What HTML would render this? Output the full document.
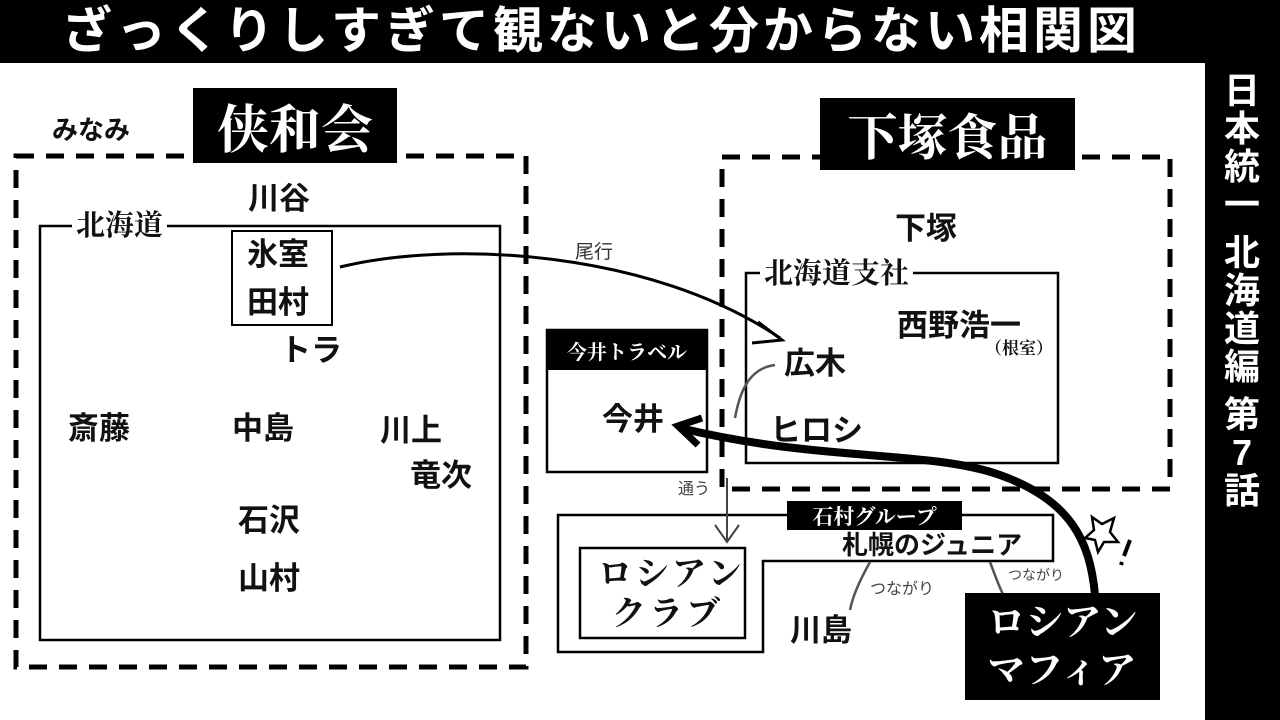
<!DOCTYPE html>
<html><head><meta charset="utf-8"><style>
body{margin:0;width:1280px;height:720px;overflow:hidden;background:#fff;position:relative;font-family:"Liberation Sans","Noto Sans CJK JP",sans-serif;}
.a{position:absolute;white-space:nowrap;font-weight:bold;color:#111;line-height:1;}
.n{font-size:31px;}
.blk{position:absolute;background:#000;color:#fff;font-family:"Liberation Serif","Noto Serif CJK SC",serif;font-weight:bold;display:flex;align-items:center;justify-content:center;white-space:nowrap;}
</style></head><body>
<div style="position:absolute;left:0;top:0;width:1280px;height:63px;background:#000"></div>
<div style="position:absolute;left:1205px;top:0;width:75px;height:720px;background:#000"></div>
<div class="a" style="left:62px;top:6px;font-size:50px;color:#fff;letter-spacing:4px">ざっくりしすぎて観ないと分からない相関図</div>
<div class="a" style="left:1222px;top:72px;font-size:36px;color:#fff;width:40px;line-height:38px;white-space:normal;text-align:center">日本統一<div style="height:10px"></div>北海道編<div style="height:10px"></div>第7話</div>

<svg style="position:absolute;left:0;top:0" width="1280" height="720">
<g fill="none" stroke="#000">
<rect x="16" y="156" width="510" height="511" stroke-width="5" stroke-dasharray="18,12"/>
<rect x="722" y="157" width="448" height="332" stroke-width="5" stroke-dasharray="18,12"/>
<rect x="40" y="226" width="460" height="414" stroke-width="2.5"/>
<rect x="232" y="231" width="100" height="94" stroke-width="2"/>
<rect x="746" y="273" width="312" height="190" stroke-width="2.5"/>
<rect x="547" y="330" width="160" height="142" stroke-width="2.5"/>
<polygon points="558,515 1053,515 1053,561 763,561 763,652 558,652" stroke-width="2.5"/>
<rect x="580" y="548" width="165" height="90" stroke-width="2.5"/>
<path d="M340,267 C450,240 650,250 780,338" stroke-width="3"/>
<path d="M758,322 L782,340 L752,343" stroke-width="3"/>
<path d="M735,418 C740,390 750,368 775,365" stroke="#555" stroke-width="2.5"/>
<path d="M727,478 L727,540 M715,525 L727,542 L739,525" stroke="#444" stroke-width="2"/>
<path d="M1095,595 C1090,540 1070,500 1000,475 C930,450 820,462 680,428" stroke-width="8"/>
<path d="M702,418 L678,426 L698,445" stroke-width="7"/>
<path d="M870,562 C860,580 853,595 850,610" stroke="#555" stroke-width="2.5"/>
<path d="M990,562 C995,575 1000,590 1005,598" stroke="#555" stroke-width="2.5"/>
<path d="M1092,517 L1102,524 L1114,518 L1110,532 L1118,542 L1104,542 L1098,552 L1095,540 L1085,538 L1094,530 Z" stroke-width="2.5"/>
<path d="M1130,540 L1124,556 M1122,562 L1121,565" stroke-width="4"/>
</g></svg>

<div class="a" style="left:72px;top:212px;font-size:29px;background:#fff;padding:0 4px;font-family:'Liberation Serif','Noto Serif CJK SC',serif">北海道</div>
<div class="a" style="left:760px;top:260px;font-size:29px;background:#fff;padding:0 4px;font-family:'Liberation Serif','Noto Serif CJK SC',serif">北海道支社</div>
<div class="blk" style="left:193px;top:88px;width:204px;height:75px;font-size:52px">侠和会</div>
<div class="blk" style="left:820px;top:98px;width:255px;height:72px;font-size:50px">下塚食品</div>
<div class="blk" style="left:547px;top:330px;width:160px;height:40px;font-size:20px">今井トラベル</div>
<div class="blk" style="left:787px;top:501px;width:175px;height:29px;font-size:21px">石村グループ</div>
<div class="blk" style="left:965px;top:593px;width:195px;height:107px;font-size:38px;flex-direction:column;line-height:48px">ロシアン<br>マフィア</div>
<div class="a" style="left:52px;top:117px;font-size:26px">みなみ</div>
<div class="a n" style="left:248px;top:183px">川谷</div>
<div class="a n" style="left:247px;top:239px">氷室</div>
<div class="a n" style="left:247px;top:287px">田村</div>
<div class="a n" style="left:280px;top:335px">トラ</div>
<div class="a n" style="left:68px;top:413px">斎藤</div>
<div class="a n" style="left:232px;top:413px">中島</div>
<div class="a n" style="left:380px;top:415px">川上</div>
<div class="a n" style="left:410px;top:460px">竜次</div>
<div class="a n" style="left:238px;top:505px">石沢</div>
<div class="a n" style="left:238px;top:563px">山村</div>
<div class="a n" style="left:895px;top:213px">下塚</div>
<div class="a n" style="left:897px;top:310px">西野浩一</div>
<div class="a" style="left:985px;top:340px;font-size:17px;font-family:'Liberation Serif','Noto Serif CJK SC',serif">（根室）</div>
<div class="a n" style="left:784px;top:348px">広木</div>
<div class="a n" style="left:770px;top:415px">ヒロシ</div>
<div class="a n" style="left:602px;top:404px">今井</div>
<div class="a" style="left:575px;top:243px;font-size:19px;color:#333;font-weight:normal">尾行</div>
<div class="a" style="left:678px;top:482px;font-size:16px;color:#444;font-weight:normal">通う</div>
<div class="a" style="left:842px;top:532px;font-size:26px">札幌のジュニア</div>
<div class="a" style="left:598px;top:558px;font-size:34px;font-family:'Liberation Serif','Noto Serif CJK SC',serif;letter-spacing:3px">ロシアン</div>
<div class="a" style="left:612px;top:598px;font-size:34px;font-family:'Liberation Serif','Noto Serif CJK SC',serif;letter-spacing:3px">クラブ</div>
<div class="a n" style="left:790px;top:615px">川島</div>
<div class="a" style="left:870px;top:582px;font-size:16px;color:#444;font-weight:normal">つながり</div>
<div class="a" style="left:1008px;top:568px;font-size:14px;color:#444;font-weight:normal">つながり</div>
</body></html>
